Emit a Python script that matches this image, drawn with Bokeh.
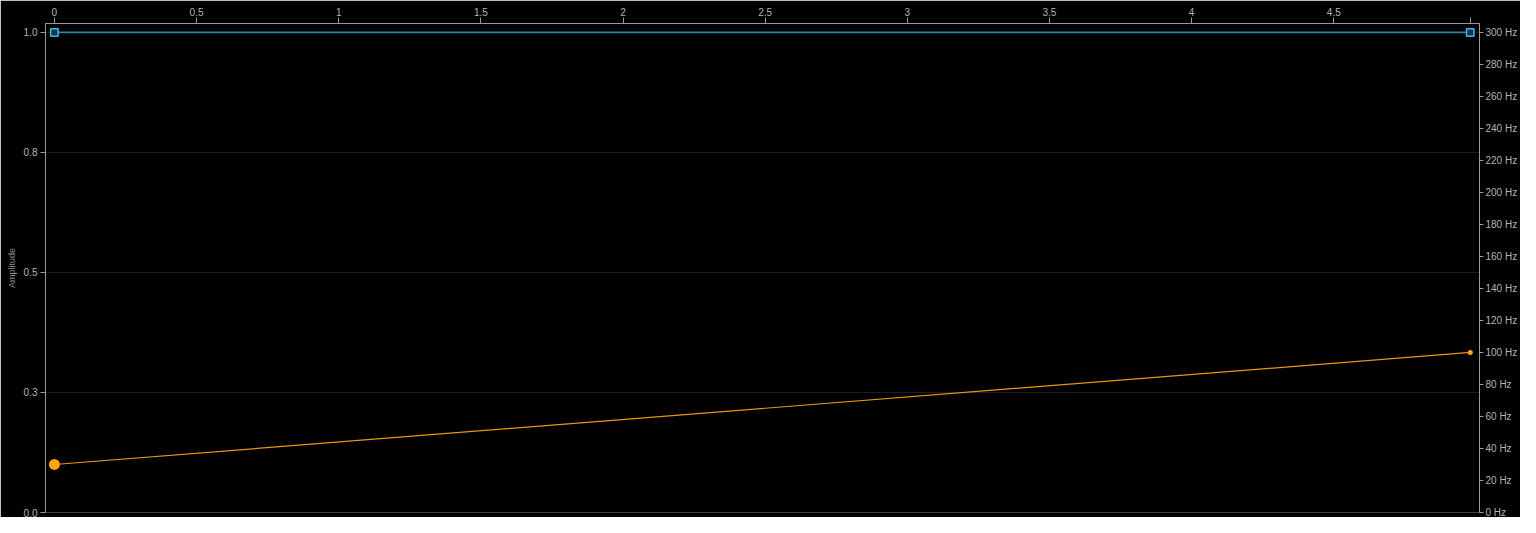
from bokeh.plotting import figure
from bokeh.models import (Range1d, LinearAxis, FixedTicker, CustomJSTickFormatter)
from bokeh.embed import file_html
from bokeh.resources import INLINE

# ---- data ----
time_s = [0.0, 4.98]
amplitude = [1.0, 1.0]
frequency_hz = [30.0, 100.0]

x_ticks = [0, 0.5, 1, 1.5, 2, 2.5, 3, 3.5, 4, 4.5, 4.98]
amp_ticks = [0.0, 0.25, 0.5, 0.75, 1.0]
hz_ticks = [0, 20, 40, 60, 80, 100, 120, 140, 160, 180, 200, 220, 240, 260, 280, 300]

BG = "#000000"
AXIS = "#9a9a9a"
LABEL = "#b4b4b4"
GRID = "#1c1c1c"
BLUE = "#2e88ac"
BLUE_EDGE = "#45b4e6"
BLUE_FILL = "#123a4c"
ORANGE = "#e8980f"
ORANGE_PT = "#ffa50a"
FONT = "Liberation Sans"

p = figure(width=1520, height=517, output_backend="svg", toolbar_location=None,
           x_range=Range1d(-0.0313, 5.0125), y_range=Range1d(0, 1.0185),
           x_axis_location=None, y_axis_location=None,
           background_fill_color=BG, border_fill_color=BG,
           outline_line_color=None,
           min_border_left=45, min_border_right=0, min_border_top=23, min_border_bottom=5)

p.extra_y_ranges = {"hz": Range1d(0, 305.5)}


def style(ax, fs="10px"):
    ax.axis_line_color = AXIS
    ax.major_tick_line_color = AXIS
    ax.minor_tick_line_color = None
    ax.major_tick_out = 5
    ax.major_tick_in = 0
    ax.major_label_text_color = LABEL
    ax.major_label_text_font = FONT
    ax.major_label_text_font_size = fs
    ax.major_label_standoff = 3


top = LinearAxis(ticker=FixedTicker(ticks=x_ticks),
                 formatter=CustomJSTickFormatter(code="return tick > 4.9 ? '' : tick.toString();"))
style(top)
top.major_tick_out = 6
top.major_label_standoff = 2
p.add_layout(top, "above")

left = LinearAxis(ticker=FixedTicker(ticks=amp_ticks),
                  formatter=CustomJSTickFormatter(code="return tick.toFixed(1);"),
                  axis_label="Amplitude")
style(left)
left.axis_label_text_font = FONT
left.axis_label_text_font_size = "9px"
left.axis_label_text_font_style = "normal"
left.axis_label_text_color = "#8c8c8c"
left.axis_label_standoff = 4
p.add_layout(left, "left")

right = LinearAxis(y_range_name="hz", ticker=FixedTicker(ticks=hz_ticks),
                   formatter=CustomJSTickFormatter(code="return tick + ' Hz';"))
style(right)
right.major_tick_out = 4
right.major_label_standoff = 2
p.add_layout(right, "right")

p.xgrid.visible = False
p.ygrid.ticker = FixedTicker(ticks=amp_ticks)
p.ygrid.grid_line_color = GRID

# amplitude series (blue)
p.line(time_s, amplitude, line_color=BLUE, line_width=1.6)
p.scatter(time_s, amplitude, marker="square", size=7.5, fill_color=BLUE_FILL,
          line_color=BLUE_EDGE, line_width=1.5)

# frequency series (orange, right axis)
p.line(time_s, frequency_hz, line_color=ORANGE, line_width=1.2, y_range_name="hz")
p.scatter(time_s[:1], frequency_hz[:1], marker="circle", size=11,
          fill_color=ORANGE_PT, line_color=None, y_range_name="hz")
p.scatter(time_s[-1:], frequency_hz[-1:], marker="circle", size=5,
          fill_color=ORANGE_PT, line_color=None, y_range_name="hz")

open("out.html", "w").write(file_html(p, INLINE))
